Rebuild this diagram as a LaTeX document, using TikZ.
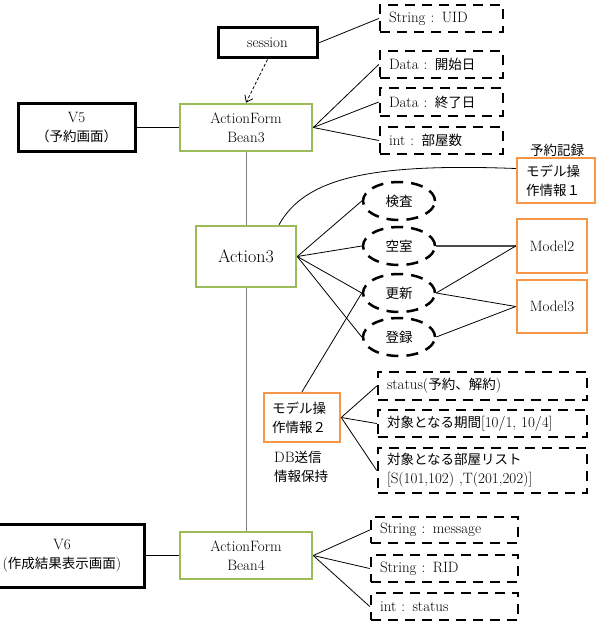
\documentclass[tikz,border=0pt]{standalone}
\usepackage{fontspec}
\newfontfamily\cjk{Noto Sans CJK JP}[Scale=0.9]
\newcommand\jtext[1]{{\cjk #1}}
\usetikzlibrary{shapes.geometric,arrows.meta}
\definecolor{grn}{HTML}{9BBB59}
\definecolor{org}{HTML}{F79646}
\begin{document}
\begin{tikzpicture}[x=1pt,y=-1pt,
  font=\fontsize{15}{19}\selectfont,
  blackbox/.style={draw, line width=3pt, align=center, inner sep=0pt},
  greenbox/.style={draw=grn, line width=2.5pt, align=center, inner sep=0pt},
  orangebox/.style={draw=org, line width=2.5pt, inner sep=0pt},
  dbox/.style={draw, line width=2.5pt, dash pattern=on 10pt off 7pt, inner ysep=0pt, inner xsep=9pt, align=left},
  dell/.style={ellipse, draw, line width=2.5pt, dash pattern=on 12pt off 8pt, minimum width=72pt, minimum height=38pt, inner sep=0pt},
  conn/.style={line width=0.8pt},
  vline/.style={line width=1pt, draw=gray}
]
\useasboundingbox (0,0) rectangle (597,623);
\clip (0,0) rectangle (597,623);

% top
\node[blackbox, minimum width=99pt, minimum height=30pt] (session) at (267.5,43) {session};
\node[dbox, text width=105pt, minimum height=27pt] (uid) at (441.5,18.5) {String : UID};
\node[dbox, text width=105pt, minimum height=27pt] (d1) at (441.5,64.5) {Data : \jtext{開始日}};
\node[dbox, text width=105pt, minimum height=28pt] (d2) at (441.5,102) {Data : \jtext{終了日}};
\node[dbox, text width=105pt, minimum height=27pt] (d3) at (441.5,140.5) {int : \jtext{部屋数}};

\node[blackbox, minimum width=117pt, minimum height=47pt] (v5) at (76.5,127.5) {V5\\\jtext{（予約画面）}};
\node[greenbox, minimum width=132pt, minimum height=47pt] (b3) at (246,127.5) {ActionForm\\Bean3};

\node (lbl1) at (557,150) {\jtext{予約記録}};
\node[orangebox, minimum width=78pt, minimum height=45pt, inner xsep=9pt, text width=60pt, align=left] (m1) at (556,180.5) {\jtext{モデル操}\\\jtext{作情報１}};

% middle
\node[greenbox, minimum width=100pt, minimum height=61pt, font=\fontsize{18}{20}\selectfont] (a3) at (246,256.5) {Action3};

\node[dell] (e1) at (399,201) {\jtext{検査}};
\node[dell] (e2) at (399,246) {\jtext{空室}};
\node[dell] (e3) at (399,293) {\jtext{更新}};
\node[dell] (e4) at (399,337) {\jtext{登録}};

\node[orangebox, minimum width=70pt, minimum height=54pt] (mo2) at (552,246) {Model2};
\node[orangebox, minimum width=70pt, minimum height=53pt] (mo3) at (552,306.5) {Model3};

\node[orangebox, minimum width=76pt, minimum height=49pt, inner xsep=8pt, text width=60pt, align=left] (m2) at (302,417.5) {\jtext{モデル操}\\\jtext{作情報２}};
\node[anchor=west, align=left, inner sep=0pt] (lbl2) at (274,466.5) {DB\jtext{送信}\\\jtext{情報保持}};

\node[dbox, text width=191pt, minimum height=28pt] (s1) at (482.5,386) {status(\jtext{予約、解約})};
\node[dbox, text width=191pt, minimum height=27pt] (s2) at (482.5,423.5) {\jtext{対象となる期間}[10/1, 10/4]};
\node[dbox, text width=191pt, minimum height=45pt] (s3) at (482.5,470.5) {\jtext{対象となる部屋リスト}\\{}[S(101,102) ,T(201,202)]};

% bottom
\node[blackbox, minimum width=164pt, minimum height=63pt] (v6) at (62,555.5) {V6\\(\jtext{作成結果表示画面})};
\node[greenbox, minimum width=132pt, minimum height=47pt] (b4) at (246,555.5) {ActionForm\\Bean4};
\node[dbox, text width=129pt, minimum height=26pt] (r1) at (444.5,530) {String : message};
\node[dbox, text width=129pt, minimum height=27pt] (r2) at (444.5,568.5) {String : RID};
\node[dbox, text width=129pt, minimum height=27pt] (r3) at (444.5,606.5) {int : status};

% connectors
\draw[conn, dash pattern=on 3pt off 2pt, -{Straight Barb[length=6pt,width=9pt]}] (session.south) -- (b3.north);
\draw[conn] (session.east) -- (uid.west);
\draw[conn] (b3.east) -- (d1.west);
\draw[conn] (b3.east) -- (d2.west);
\draw[conn] (b3.east) -- (d3.west);
\draw[conn] (v5.east) -- (b3.west);
\draw[vline] (b3.south) -- (a3.north);
\draw[vline] (a3.south) -- (b4.north);
\draw[conn] ([xshift=33pt]a3.north) .. controls (305,178) and (370,163) .. ([yshift=12pt]m1.west);
\draw[conn] (a3.east) -- (e1.west);
\draw[conn] (a3.east) -- (e2.west);
\draw[conn] (a3.east) -- (e3.west);
\draw[conn] (a3.east) -- (e4.west);
\draw[line width=1.5pt, draw=gray!60!black] (e2.east) -- (mo2.west);
\draw[conn] (mo2.west) -- (e3.east);
\draw[conn] (mo3.west) -- (e3.east);
\draw[conn] (mo3.west) -- (e4.east);
\draw[conn] (m2.north) -- (e3.west);
\draw[conn] (m2.east) -- (s1.west);
\draw[conn] (m2.east) -- (s2.west);
\draw[conn] (m2.east) -- (s3.west);
\draw[conn] (v6.east) -- (b4.west);
\draw[conn] (b4.east) -- (r1.west);
\draw[conn] (b4.east) -- (r2.west);
\draw[conn] (b4.east) -- (r3.west);
\end{tikzpicture}
\end{document}
